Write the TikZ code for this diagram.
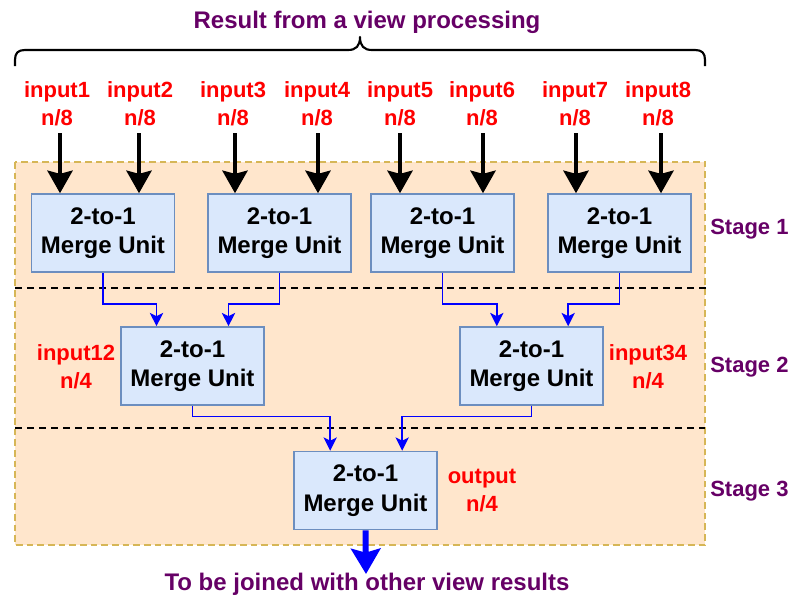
\documentclass[tikz,border=0pt]{standalone}
\usepackage{fontspec}
\setmainfont{Liberation Sans}
\usetikzlibrary{arrows.meta,calc}
\definecolor{boxfill}{HTML}{DAE8FC}
\definecolor{boxline}{HTML}{6C8EBF}
\definecolor{regionfill}{HTML}{FFE6CC}
\definecolor{regionline}{HTML}{D6B656}
\definecolor{titlepurple}{HTML}{660066}
\definecolor{labred}{HTML}{FF0000}
\definecolor{flowblue}{HTML}{0000FF}
\begin{document}
\begin{tikzpicture}[x=0.75pt,y=-0.75pt,
  mergebox/.style={draw=boxline,fill=boxfill,line width=1.2pt,minimum width=107.5pt,minimum height=58.5pt,inner sep=0pt,align=center,font=\fontsize{18}{22}\selectfont\bfseries,text=black},
  redlab/.style={align=center,text=labred,font=\fontsize{16.5}{21}\selectfont\bfseries,inner sep=0pt},
  stagelab/.style={anchor=west,text=titlepurple,font=\fontsize{16.5}{20}\selectfont\bfseries,inner sep=0pt},
  biglab/.style={text=titlepurple,font=\fontsize{18}{22}\selectfont\bfseries,inner sep=0pt},
  inarrow/.style={line width=2.4pt,-{Stealth[length=17pt,width=19pt,inset=2.5pt]}},
  flow/.style={draw=flowblue,line width=1.1pt,-{Stealth[length=10pt,width=10pt,inset=2.5pt]}},
  outarrow/.style={draw=flowblue,line width=4.5pt,-{Stealth[length=19pt,width=22pt,inset=3pt]}},
  stagesep/.style={black,line width=1.1pt,dash pattern=on 5pt off 4pt},
  bracestyle/.style={line width=1.6pt,line join=round}
]
\useasboundingbox (0,0) rectangle (791,597);
% region
\draw[fill=regionfill,draw=regionline,line width=1.2pt,dash pattern=on 5pt off 3pt] (15,162) rectangle (705,545);
\draw[stagesep] (15,288) -- (708,288);
\draw[stagesep] (15,428) -- (705,428);
% title and brace
\node[biglab] (title) at (367,22) {Result from a view processing};
\draw[bracestyle] (15,66) -- (15,60) .. controls (15,53) and (18,50) .. (25,50) -- (348,50) .. controls (356,50) and (360,46) .. (360,37) .. controls (360,46) and (364,50) .. (372,50) -- (695,50) .. controls (702,50) and (705,53) .. (705,60) -- (705,66);
% input labels
\foreach \i/\x in {1/57,2/140,3/233,4/317,5/400,6/482,7/575,8/658}{
  \node[redlab] (in\i) at (\x,104) {input\i\\n/8};
}
% boxes
\node[mergebox] (b1) at (103,233) {2-to-1\\Merge Unit};
\node[mergebox] (b2) at (279.5,233) {2-to-1\\Merge Unit};
\node[mergebox] (b3) at (442.5,233) {2-to-1\\Merge Unit};
\node[mergebox] (b4) at (619.5,233) {2-to-1\\Merge Unit};
\node[mergebox] (b5) at (192.5,366) {2-to-1\\Merge Unit};
\node[mergebox] (b6) at (531.5,366) {2-to-1\\Merge Unit};
\node[mergebox] (b7) at (365.5,490.5) {2-to-1\\Merge Unit};
% input arrows
\foreach \i/\x/\b in {1/60/b1,2/139/b1,3/235/b2,4/318/b2,5/400/b3,6/483/b3,7/576/b4,8/661/b4}{
  \coordinate (a\i) at (\x,133);
  \draw[inarrow] (a\i) -- (a\i |- \b.north);
}
% stage 1 -> stage 2
\draw[flow] (b1.south) |- ([xshift=-27pt,yshift=16.5pt]b5.north) -- ([xshift=-27pt]b5.north);
\draw[flow] (b2.south) |- ([xshift=27pt,yshift=16.5pt]b5.north) -- ([xshift=27pt]b5.north);
\draw[flow] (b3.south) |- ([xshift=-26pt,yshift=16.5pt]b6.north) -- ([xshift=-26pt]b6.north);
\draw[flow] (b4.south) |- ([xshift=27.5pt,yshift=16.5pt]b6.north) -- ([xshift=27.5pt]b6.north);
% stage 2 -> stage 3
\draw[flow] (b5.south) |- ([xshift=-26.5pt,yshift=25.5pt]b7.north) -- ([xshift=-26.5pt]b7.north);
\draw[flow] (b6.south) |- ([xshift=27.5pt,yshift=25.5pt]b7.north) -- ([xshift=27.5pt]b7.north);
% side labels
\node[redlab] (l12) at (76,367) {input12\\n/4};
\node[redlab] (l34) at (648,367) {input34\\n/4};
\node[redlab] (lout) at (482,491) {output\\n/4};
\node[stagelab] (s1) at (710,229) {Stage 1};
\node[stagelab] (s2) at (710,367) {Stage 2};
\node[stagelab] (s3) at (710,491) {Stage 3};
% output
\coordinate (outend) at (366,574);
\draw[outarrow] (b7.south) -- (outend);
\node[biglab] (bottom) at (367,584) {To be joined with other view results};
\end{tikzpicture}
\end{document}
